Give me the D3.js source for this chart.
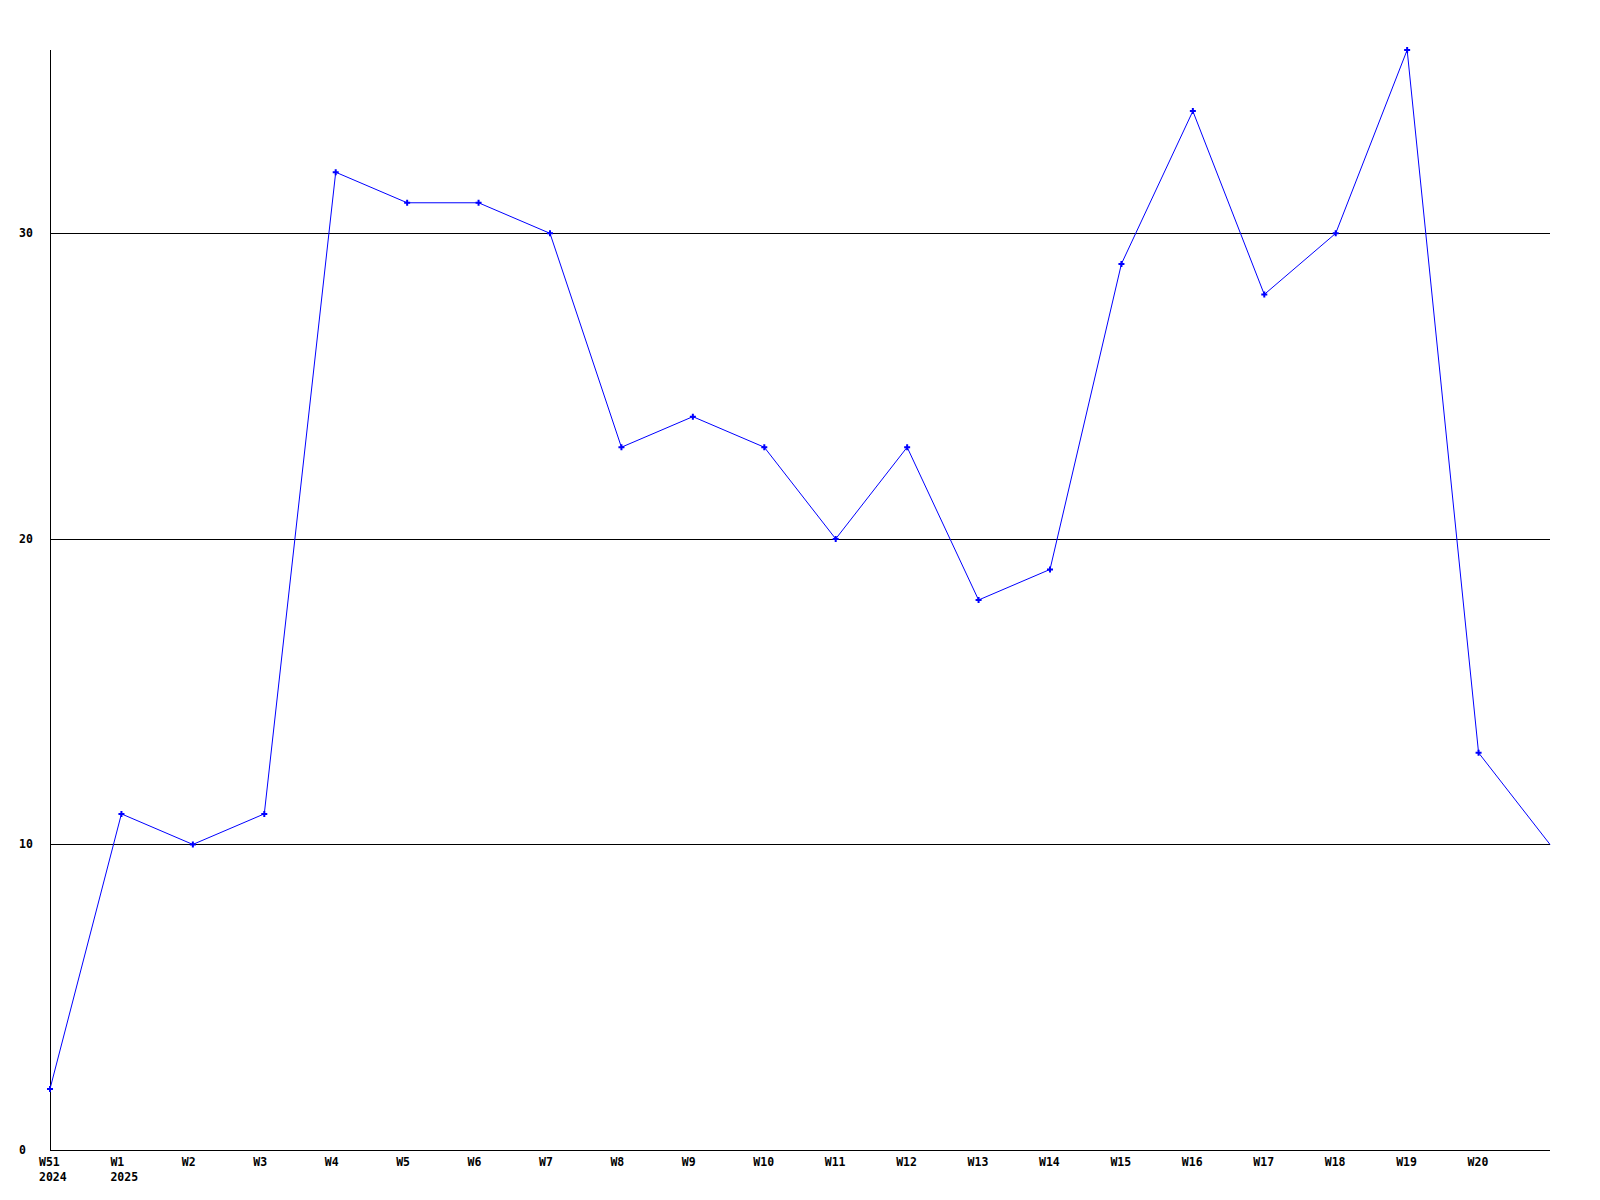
<!DOCTYPE html>
<html>
<head>
<meta charset="utf-8">
<script src="https://cdn.jsdelivr.net/npm/d3@7"></script>
<style>
html,body{margin:0;padding:0;background:#fff;}
svg{display:block;}
text{font-family:"DejaVu Sans Mono","Liberation Mono",monospace;font-weight:bold;font-size:11.5px;fill:#000;}
</style>
</head>
<body>
<svg id="chart" width="1600" height="1200"></svg>
<script>
const weeks = ["W51","W1","W2","W3","W4","W5","W6","W7","W8","W9","W10","W11","W12","W13","W14","W15","W16","W17","W18","W19","W20","W21"];
const yearLabels = ["2024","2025"];
const values = [2,11,10,11,32,31,31,30,23,24,23,20,23,18,19,29,34,28,30,36,13,10];
const yTicks = [0,10,20,30];
const gridValues = [10,20,30];

const svg = d3.select("#chart");
const x = d3.scalePoint().domain(weeks).range([50,1550]);
const y = d3.scaleLinear().domain([0,36]).range([1150,50]);

// gridlines
svg.append("g").selectAll("line").data(gridValues).join("line")
  .attr("x1",50).attr("x2",1550)
  .attr("y1",d=>y(d)+0.5).attr("y2",d=>y(d)+0.5)
  .attr("stroke","#000").attr("stroke-width",1).attr("shape-rendering","crispEdges");

// axes lines
svg.append("line").attr("x1",50.5).attr("x2",50.5).attr("y1",y(36)).attr("y2",y(0)+0.5)
  .attr("stroke","#000").attr("shape-rendering","crispEdges");
svg.append("line").attr("x1",50).attr("x2",1550).attr("y1",y(0)+0.5).attr("y2",y(0)+0.5)
  .attr("stroke","#000").attr("shape-rendering","crispEdges");

// y labels
svg.append("g").selectAll("text").data(yTicks).join("text")
  .attr("x",19).attr("y",d=>y(d)).attr("dy","0.35em")
  .text(d=>d);

// x labels (all but last week)
svg.append("g").selectAll("text").data(weeks.slice(0,-1)).join("text")
  .attr("x",d=>x(d)-11).attr("y",1166)
  .text(d=>d);
svg.append("g").selectAll("text").data(yearLabels).join("text")
  .attr("x",(d,i)=>x(weeks[i])-11).attr("y",1181)
  .text(d=>d);

// line
const line = d3.line().x((d,i)=>x(weeks[i])).y(d=>y(d));
svg.append("path").datum(values).attr("d",line)
  .attr("fill","none").attr("stroke","#0000ff").attr("stroke-width",1);

// markers (not on the last point)
svg.append("g").selectAll("path").data(values.slice(0,-1)).join("path")
  .attr("transform",(d,i)=>`translate(${x(weeks[i])},${y(d)})`)
  .attr("d",d3.symbol().type(d3.symbolCross).size(20))
  .attr("fill","#0000ff");
</script>
</body>
</html>
